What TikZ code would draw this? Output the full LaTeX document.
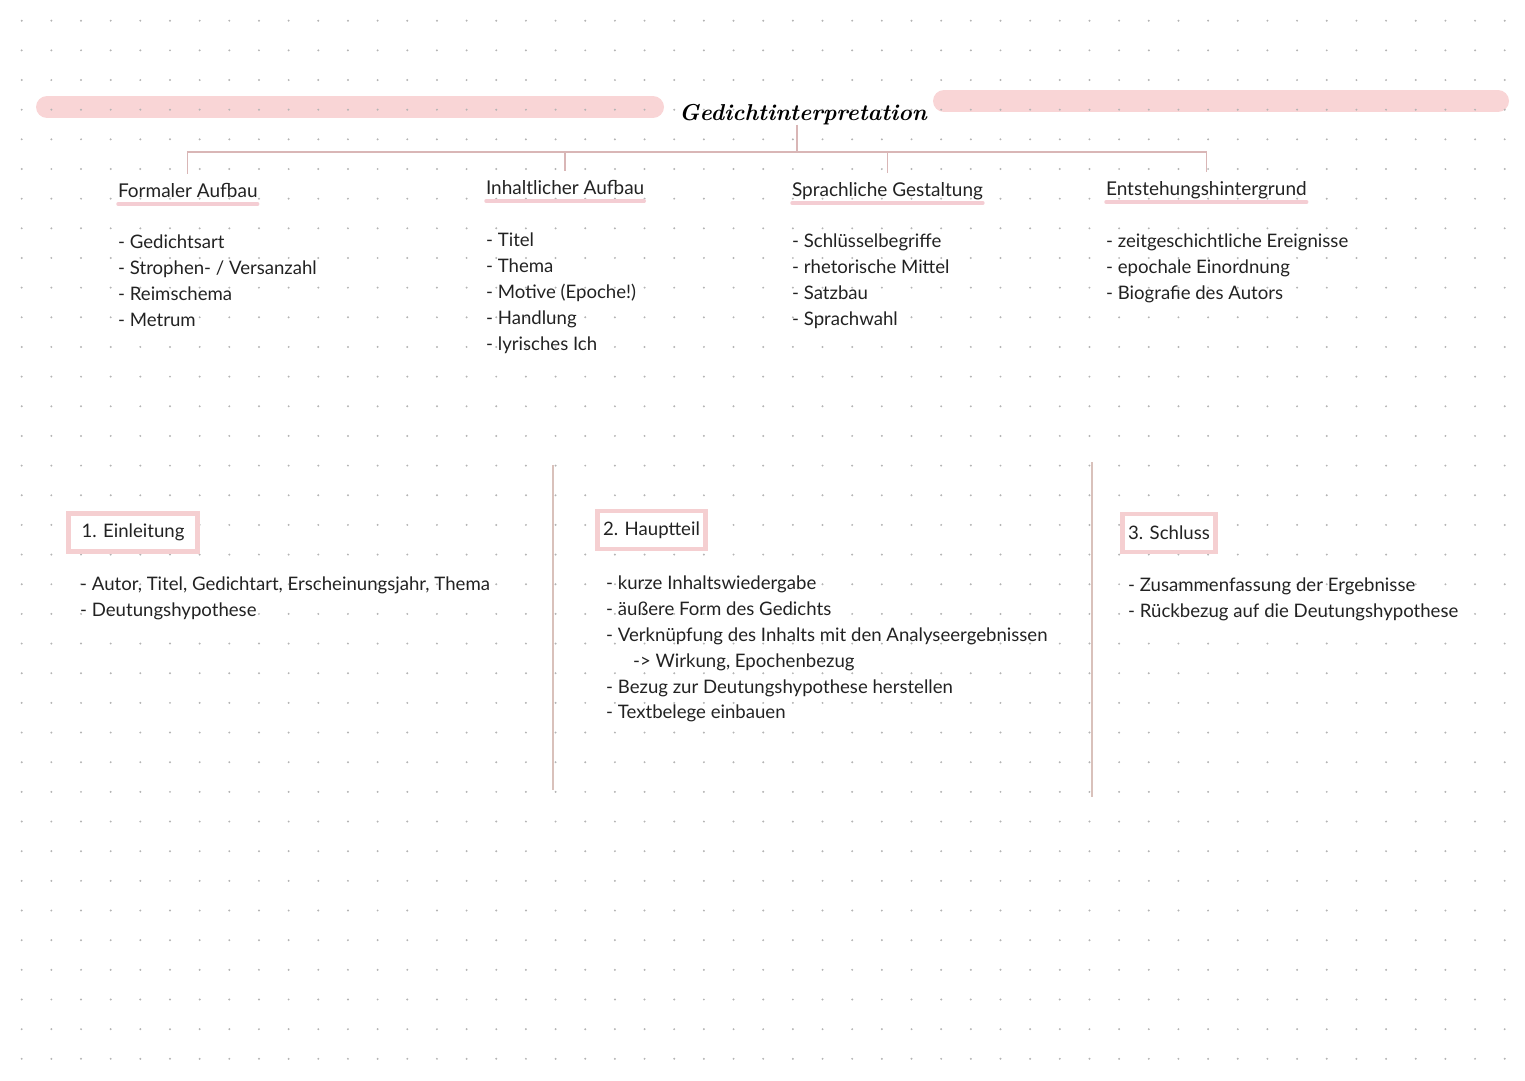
\documentclass[tikz,border=0pt]{standalone}
\usepackage{fontspec}
\setmainfont{Lato}
\newfontfamily\titlefont{Latin Modern Roman}
\usepackage{tikz}
\usetikzlibrary{calc}
\definecolor{barpink}{HTML}{F9D5D6}
\definecolor{boxpink}{HTML}{F5CFD1}
\definecolor{ulpink}{HTML}{F4CDD3}
\definecolor{treeline}{HTML}{D9B6B6}
\definecolor{divline}{HTML}{D9C1BB}
\definecolor{dotgray}{HTML}{B4B4B4}
\definecolor{ink}{HTML}{222222}
\newcommand{\headfont}{\fontsize{19}{26}\selectfont\color{ink}}
\newcommand{\listfont}{\fontsize{18.6}{25.8}\selectfont\color{ink}}
\tikzstyle{heading} = [inner sep=0pt, outer xsep=0pt, outer ysep=9pt,
    anchor=base west, font=\headfont]
\tikzstyle{itemlist} = [inner sep=0pt, anchor=north west, align=left,
    font=\listfont]
\tikzstyle{partbox} = [rectangle, draw=boxpink, line width=4.5pt, fill=white,
    minimum height=38pt, font=\listfont]
\tikzstyle{line} = [draw=treeline, line width=1.4pt]
\tikzstyle{uline} = [draw=ulpink, line width=3.5pt, line cap=round]
\tikzstyle{bar} = [draw=barpink, line width=22pt, line cap=round]
\tikzstyle{divider} = [draw=divline, line width=1.8pt]

\begin{document}
\begin{tikzpicture}[x=1pt, y=-1pt]
    \useasboundingbox (0,0) rectangle (1525,1080);
    % Background
    \path [bar] (47,107) -- (653,107);
    \path [bar] (944,101) -- (1498,101);
    \foreach \i in {0,...,50}
        \foreach \j in {0,...,35}
            \fill [dotgray] (21.7+29.66*\i, 20.7+29.66*\j) circle (1.1pt);
    % Nodes
    \node [inner sep=0pt, anchor=base, font=\titlefont\bfseries\itshape\fontsize{23}{28}\selectfont]
        (title) at (803,120) {Gedichtinterpretation};
    \coordinate (hub) at (797,152);
    \node [heading] (form) at (118,197) {Formaler Aufbau};
    \node [heading] (inhalt) at (486,194) {Inhaltlicher Aufbau};
    \node [heading] (sprache) at (792,196) {Sprachliche Gestaltung};
    \node [heading] (entst) at (1106,195) {Entstehungshintergrund};
    \node [itemlist] (formlist) at (118,235)
        {- Gedichtsart\\- Strophen- / Versanzahl\\- Reimschema\\- Metrum};
    \node [itemlist] (inhaltlist) at (486,233)
        {- Titel\\- Thema\\- Motive (Epoche!)\\- Handlung\\- lyrisches Ich};
    \node [itemlist] (sprachelist) at (792,234)
        {- Schlüsselbegriffe\\- rhetorische Mittel\\- Satzbau\\- Sprachwahl};
    \node [itemlist] (entstlist) at (1106,234)
        {- zeitgeschichtliche Ereignisse\\- epochale Einordnung\\- Biografie des Autors};
    \node [partbox, minimum width=129pt] (einl) at (133,532.5) {1. Einleitung};
    \node [partbox, minimum width=108pt] (haupt) at (651.5,530) {2. Hauptteil};
    \node [partbox, minimum width=93pt] (schluss) at (1169,533) {3. Schluss};
    \node [itemlist] (einllist) at (80,577)
        {- Autor, Titel, Gedichtart, Erscheinungsjahr, Thema\\- Deutungshypothese};
    \node [itemlist] (hauptlist) at (606,576)
        {- kurze Inhaltswiedergabe\\- äußere Form des Gedichts\\
         - Verknüpfung des Inhalts mit den Analyseergebnissen\\
         \hspace*{27pt}-> Wirkung, Epochenbezug\\
         - Bezug zur Deutungshypothese herstellen\\- Textbelege einbauen};
    \node [itemlist] (schlusslist) at (1128,578)
        {- Zusammenfassung der Ergebnisse\\- Rückbezug auf die Deutungshypothese};
    % Underlines
    \foreach \h in {form, inhalt, sprache, entst}
        \path [uline] ([yshift=-7pt]\h.base west) -- ([yshift=-7pt]\h.base east);
    % Edges
    \path [line] (title.south -| hub) -- (hub);
    \path [line] (form.north) |- (hub);
    \path [line] (inhalt.north) |- (hub);
    \path [line] (sprache.north) |- (hub);
    \path [line] (entst.north) |- (hub);
    % Dividers
    \path [divider] (553,465) -- (553,790);
    \path [divider] (1092,462) -- (1092,797);
\end{tikzpicture}
\end{document}
